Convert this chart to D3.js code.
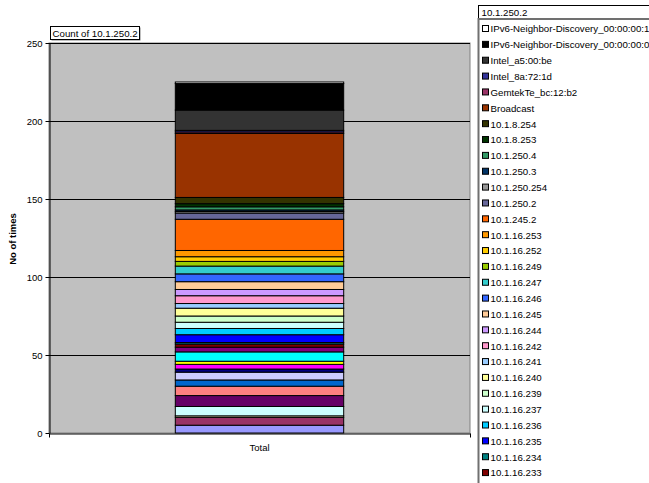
<!DOCTYPE html>
<html>
<head>
<meta charset="utf-8">
<script src="https://cdn.jsdelivr.net/npm/d3@7"></script>
<style>
  html, body { margin: 0; padding: 0; background: #ffffff; }
  svg { display: block; }
  text { font-family: Arial, "Liberation Sans", sans-serif; fill: #000; }
</style>
</head>
<body>
<svg id="chart" width="649" height="483"></svg>
<script>
// Pivot chart: count of packets per source for 10.1.250.2, stacked into one column.
// Series are listed bottom of the stack first.
const categories = ["Total"];

const seriesNames = [
  "10.1.16.220", "10.1.16.221", "10.1.16.222", "10.1.16.223", "10.1.16.224",
  "10.1.16.225", "10.1.16.226", "10.1.16.227", "10.1.16.228", "10.1.16.229",
  "10.1.16.230", "10.1.16.231", "10.1.16.232",
  "10.1.16.233", "10.1.16.234", "10.1.16.235", "10.1.16.236", "10.1.16.237",
  "10.1.16.239", "10.1.16.240", "10.1.16.241", "10.1.16.242", "10.1.16.244",
  "10.1.16.245", "10.1.16.246", "10.1.16.247", "10.1.16.249", "10.1.16.252",
  "10.1.16.253", "10.1.245.2", "10.1.250.2", "10.1.250.254", "10.1.250.3",
  "10.1.250.4", "10.1.8.253", "10.1.8.254", "Broadcast", "GemtekTe_bc:12:b2",
  "Intel_8a:72:1d", "Intel_a5:00:be",
  "IPv6-Neighbor-Discovery_00:00:00:02", "IPv6-Neighbor-Discovery_00:00:00:16"
];

const seriesValues = [
  5, 5, 1, 6, 7,
  6, 4, 5, 2, 3,
  2, 6, 3,
  2, 1, 5, 4, 4,
  4, 5, 3, 5, 4,
  5, 5, 5, 3, 3,
  4, 20, 4, 1, 1,
  2, 2, 4, 41, 1,
  1, 13,
  17, 1
];

const seriesColors = [
  "#9999FF", "#993366", "#FFFFCC", "#CCFFFF", "#660066",
  "#FF8080", "#0066CC", "#CCCCFF", "#000080", "#FF00FF",
  "#FFFF00", "#00FFFF", "#800080",
  "#800000", "#008080", "#0000FF", "#00CCFF", "#CCFFFF",
  "#CCFFCC", "#FFFF99", "#99CCFF", "#FF99CC", "#CC99FF",
  "#FFCC99", "#3366FF", "#33CCCC", "#99CC00", "#FFCC00",
  "#FF9900", "#FF6600", "#666699", "#969696", "#003366",
  "#339966", "#003300", "#333300", "#993300", "#993366",
  "#333399", "#333333",
  "#000000", "#FFFFFF"
];

const yTicks = [0, 50, 100, 150, 200, 250];
const yMax = 250;
const dataFieldLabel = "Count of 10.1.250.2";
const seriesFieldLabel = "10.1.250.2";
const yTitle = "No of times";

const width = 649, height = 483;
const svg = d3.select("#chart");

const plot = { left: 49, right: 470, top: 43, bottom: 433 };

const x = d3.scaleBand()
  .domain(categories)
  .range([plot.left, plot.right])
  .padding(0.4286);

const y = d3.scaleLinear()
  .domain([0, yMax])
  .range([plot.bottom, plot.top]);

const color = d3.scaleOrdinal().domain(seriesNames).range(seriesColors);

// Plot area background
svg.append("rect")
  .attr("x", plot.left).attr("y", plot.top)
  .attr("width", plot.right - plot.left).attr("height", plot.bottom - plot.top)
  .attr("fill", "#C0C0C0")
  .attr("stroke", "#808080")
  .attr("stroke-width", 1);

// Horizontal gridlines
svg.append("g")
  .selectAll("line")
  .data(yTicks.filter(d => d > 0))
  .join("line")
  .attr("x1", plot.left).attr("x2", plot.right)
  .attr("y1", d => Math.round(y(d)) + 0.5).attr("y2", d => Math.round(y(d)) + 0.5)
  .attr("stroke", "#000").attr("stroke-width", 1);

// Stacked column
const row = { category: categories[0] };
seriesNames.forEach((n, i) => { row[n] = seriesValues[i]; });
const stacked = d3.stack().keys(seriesNames)([row]);

svg.append("g")
  .selectAll("g")
  .data(stacked)
  .join("g")
  .attr("fill", d => color(d.key))
  .selectAll("rect")
  .data(d => d.map(p => ({ p, cat: p.data.category })))
  .join("rect")
  .attr("x", d => x(d.cat))
  .attr("width", x.bandwidth())
  .attr("y", d => y(d.p[1]))
  .attr("height", d => y(d.p[0]) - y(d.p[1]))
  .attr("stroke", "#000")
  .attr("stroke-width", 1);

// Value axis
const yAxis = svg.append("g")
  .attr("transform", `translate(${plot.left + 0.5},0)`)
  .call(d3.axisLeft(y).tickValues(yTicks).tickSize(4).tickPadding(3).tickSizeOuter(0));
yAxis.select(".domain").attr("stroke", "#000");
yAxis.selectAll(".tick line").attr("stroke", "#000");
yAxis.selectAll(".tick text")
  .attr("font-size", "9.5px")
  .attr("font-family", "Arial, 'Liberation Sans', sans-serif")
  .attr("fill", "#000");

// Category axis
const xAxis = svg.append("g")
  .attr("transform", `translate(0,${plot.bottom + 0.5})`)
  .call(d3.axisBottom(x).tickSize(0).tickPadding(11).tickSizeOuter(0));
xAxis.select(".domain").attr("stroke", "#000");
xAxis.selectAll(".tick text")
  .attr("font-size", "9.5px")
  .attr("font-family", "Arial, 'Liberation Sans', sans-serif")
  .attr("fill", "#000");
// tick marks between categories
xAxis.append("g")
  .selectAll("line")
  .data(x.range())
  .join("line")
  .attr("x1", d => Math.round(d) + 0.5).attr("x2", d => Math.round(d) + 0.5)
  .attr("y1", 0).attr("y2", 4)
  .attr("stroke", "#000");

// Value axis title
svg.append("text")
  .attr("transform", "translate(16,239) rotate(-90)")
  .attr("text-anchor", "middle")
  .attr("font-size", "9.5px")
  .attr("font-weight", "bold")
  .text(yTitle);

// Data field button
const fieldBox = svg.append("g").attr("transform", "translate(50.5,26.5)");
fieldBox.append("rect")
  .attr("x", 1).attr("y", 1).attr("width", 89).attr("height", 13)
  .attr("fill", "#808080");
fieldBox.append("rect")
  .attr("width", 89).attr("height", 13)
  .attr("fill", "#fff").attr("stroke", "#000");
fieldBox.append("text")
  .attr("x", 2).attr("y", 10)
  .attr("font-size", "9.7px")
  .text(dataFieldLabel);

// Legend: series field button and entries (top of stack first)
const legendX = 478.5;
const legendHead = svg.append("g").attr("transform", `translate(${legendX},5.5)`);
legendHead.append("rect")
  .attr("width", 180).attr("height", 13)
  .attr("fill", "#fff").attr("stroke", "#000");
legendHead.append("text")
  .attr("x", 3).attr("y", 10)
  .attr("font-size", "9.7px")
  .text(seriesFieldLabel);

svg.append("rect")
  .attr("x", legendX).attr("y", 19)
  .attr("width", 200).attr("height", 720)
  .attr("fill", "#fff").attr("stroke", "#707070").attr("stroke-width", 2);

// Like the spreadsheet legend, only entries that fit in the chart height are listed
const rowStep = 15.86;
const firstRow = 29;
const legendItems = seriesNames.slice().reverse()
  .filter((d, i) => firstRow + i * rowStep + 5 <= height);

const legend = svg.append("g");
const entry = legend.selectAll("g")
  .data(legendItems)
  .join("g")
  .attr("transform", (d, i) => `translate(0,${firstRow + i * rowStep})`);
entry.append("rect")
  .attr("x", 482.5).attr("y", -3.5)
  .attr("width", 6).attr("height", 6)
  .attr("fill", d => color(d))
  .attr("stroke", "#000");
entry.append("text")
  .attr("x", 490.5).attr("y", 3.4)
  .attr("font-size", "9.7px")
  .text(d => d);
</script>
</body>
</html>
